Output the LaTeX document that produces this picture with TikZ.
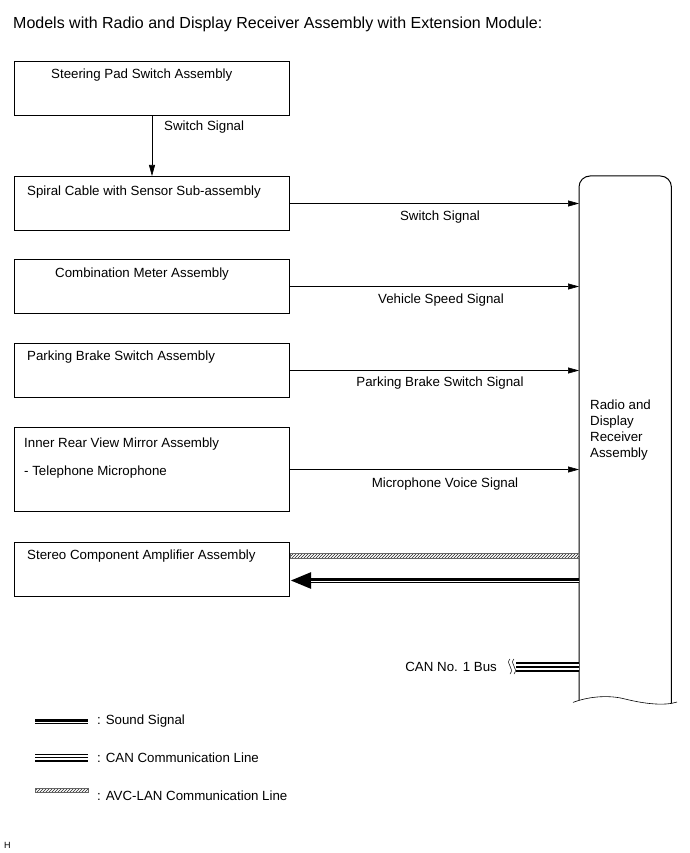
\documentclass[tikz,border=0pt]{standalone}
\usepackage{fontspec}
\setmainfont{Liberation Sans}
\usepackage{tikz}
\usetikzlibrary{arrows.meta,positioning,patterns}

\begin{document}
\begin{tikzpicture}[
  x=1pt, y=-1pt,
  box/.style={draw, line width=1pt, anchor=north west, inner sep=0pt,
    minimum width=275pt, minimum height=54pt},
  txt/.style={inner sep=0pt, anchor=base west, font=\fontsize{13.3}{15}\selectfont},
  sig/.style={inner sep=0pt, anchor=base, font=\fontsize{13.3}{15}\selectfont},
  arr/.style={-{Triangle[length=11pt,width=6pt]}, line width=0.6pt},
  sound/.style={line width=5pt},
  sndgap/.style={white, line width=0.6pt, transform canvas={yshift=-1pt}},
  can/.style={line width=10pt, postaction={draw, white, line width=6pt},
    postaction={draw, black, line width=2pt}},
  canleg/.style={line width=8pt, postaction={draw, white, line width=4.8pt},
    postaction={draw, black, line width=1.6pt}},
  avc/.style={draw=black!60, line width=0.4pt, pattern=north east lines,
    pattern color=black!85}
]
  \useasboundingbox (0,0) rectangle (689,853);

  \node[txt, font=\fontsize{16}{19}\selectfont] (title) at (13,29)
    {Models with Radio and Display Receiver Assembly with Extension Module:};

  % left hand assemblies
  \node[box] (steer) at (14,61) {};
  \node[box] (spiral) at (14,176) {};
  \node[box] (meter) at (14,259) {};
  \node[box] (brake) at (14,343) {};
  \node[box, minimum height=84pt] (mirror) at (14,427) {};
  \node[box] (amp) at (14,542) {};

  \node[txt] (steer-t) at (51,79) {Steering Pad Switch Assembly};
  \node[txt] (spiral-t) at (27,195) {Spiral Cable with Sensor Sub-assembly};
  \node[txt] (meter-t) at (55,277) {Combination Meter Assembly};
  \node[txt] (brake-t) at (27,360) {Parking Brake Switch Assembly};
  \node[txt] (mirror-t) at (24,447) {Inner Rear View Mirror Assembly};
  \node[txt] (mic-t) at (24,475) {- Telephone Microphone};
  \node[txt] (amp-t) at (27,559) {Stereo Component Amplifier Assembly};

  % radio and display receiver
  \node[inner sep=0pt, minimum width=92pt, minimum height=524pt,
    anchor=north west] (recv) at (579,176) {};
  \draw[line width=1pt, rounded corners=11pt]
    (recv.south west) -- (recv.north west) -- (recv.north east)
    -- ([yshift=-3pt]recv.south east);
  \draw[line width=0.6pt] ([xshift=-6pt,yshift=-2pt]recv.south west)
    .. controls (590,696) and (610,695) .. (625,699)
    .. controls (645,704) and (665,706) .. (677,702);
  \node[inner sep=0pt, anchor=north west, align=left,
    font=\fontsize{13.3}{16}\selectfont] (recv-t) at (590,400)
    {Radio and\\Display\\Receiver\\Assembly};

  % signals
  \draw[arr] (steer.south -| 152,0) -- (spiral.north -| 152,0);
  \node[txt] (steer-sig) at (164,131) {Switch Signal};

  \draw[arr] (spiral.east) -- (spiral.east -| recv.west);
  \node[sig] (spiral-sig) at (440,220) {Switch Signal};
  \draw[arr] (meter.east) -- (meter.east -| recv.west);
  \node[sig] (meter-sig) at (441,303) {Vehicle Speed Signal};
  \draw[arr] (brake.east) -- (brake.east -| recv.west);
  \node[sig] (brake-sig) at (440,386) {Parking Brake Switch Signal};
  \draw[arr] (mirror.east) -- (mirror.east -| recv.west);
  \node[sig] (mirror-sig) at (445,487) {Microphone Voice Signal};

  \draw[avc] (amp.east |- 0,553) rectangle (recv.west |- 0,558);
  \coordinate (snd-r) at (recv.west |- 0,580.5);
  \coordinate (snd-l) at (amp.east |- 0,580.5);
  \draw[sound, -{Triangle[length=21pt,width=15pt]}] (snd-r) -- (snd-l);
  \draw[sndgap] (snd-r) -- ([xshift=21pt]snd-l);

  % CAN bus
  \coordinate (canbus) at (516,667);
  \draw[can] (canbus) -- (canbus -| recv.west);
  \draw[line width=0.5pt] (510,659) .. controls (505,664) and (515,668) .. (510,674);
  \draw[line width=0.5pt] (514,659) .. controls (509,664) and (519,668) .. (514,674);
  \node[inner sep=0pt, anchor=east, font=\fontsize{13.3}{15}\selectfont]
    (can-t) at (497,667) {CAN No. 1 Bus};

  % legend
  \coordinate (leg1) at (35,721);
  \coordinate (leg2) at (35,757.5);
  \coordinate (leg3) at (35,790);
  \draw[sound] (leg1) -- ++(53,0);
  \draw[sndgap] (leg1) -- ++(53,0);
  \node[txt] (leg1-t) at (97,724) {: Sound Signal};
  \draw[canleg] (leg2) -- ++(53,0);
  \node[txt] (leg2-t) at (97,762) {: CAN Communication Line};
  \draw[avc] ([yshift=2pt]leg3) rectangle ++(53,4);
  \node[txt] (leg3-t) at (97,800) {: AVC-LAN Communication Line};

  \node[txt, font=\fontsize{9}{10}\selectfont] (code) at (4,848) {H};
\end{tikzpicture}
\end{document}
